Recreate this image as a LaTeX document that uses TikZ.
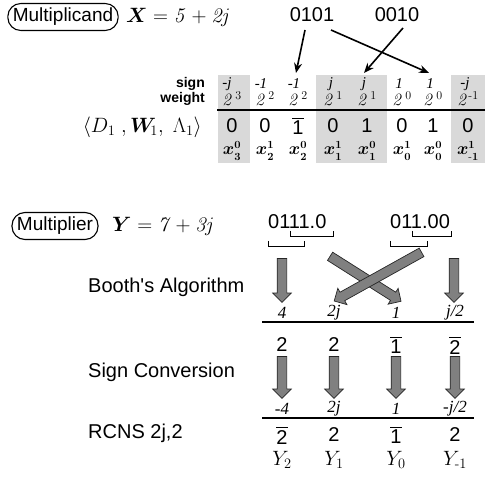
\documentclass[tikz,border=0pt]{standalone}
\usepackage[no-math]{fontspec}
\usepackage{amsmath,bm}
\newfontfamily\sans{Liberation Sans}
\newfontfamily\serif{Liberation Serif}
\usetikzlibrary{arrows.meta,shapes.arrows}
\newcommand\ob[1]{$\overline{\mbox{#1}}$}
\tikzset{
  boxlbl/.style={draw, rounded corners=13pt, line width=1.1pt, font=\sans\fontsize{19}{23}\selectfont, minimum height=27pt, inner xsep=5pt, inner ysep=0pt},
  lbl/.style={font=\sans\fontsize{20}{24}\selectfont, anchor=west, inner sep=0pt},
  dig/.style={font=\sans\fontsize{20}{24}\selectfont, inner sep=0pt},
  mth/.style={font=\fontsize{20}{24}\selectfont, inner sep=0pt},
  sgn/.style={font=\serif\itshape\fontsize{15}{18}\selectfont, inner sep=0pt},
  wgt/.style={font=\fontsize{17}{20}\selectfont, inner sep=0pt},
  xr/.style={font=\fontsize{16}{19}\selectfont\boldmath, inner sep=0pt},
  rowit/.style={font=\serif\itshape\fontsize{17}{20}\selectfont, inner sep=0pt},
  small/.style={font=\sans\bfseries\fontsize{14}{16}\selectfont, anchor=east, inner sep=0pt},
  shade/.style={fill=gray!30},
  rule/.style={line width=1.2pt},
  thin/.style={line width=1.6pt, -{Stealth[length=10pt,width=8pt]}},
  brk/.style={line width=1pt},
  fatarrow/.style={single arrow, draw=black!85, line width=0.7pt, fill=black!50, inner xsep=0pt, inner ysep=4.5pt,
    single arrow head extend=4.5pt, single arrow head indent=0pt,
    sloped, allow upside down, midway, minimum height=#1},
}
\begin{document}
\begin{tikzpicture}[x=1pt,y=-1pt]
\useasboundingbox (0,0) rectangle (485,478);
% shading
\fill[shade] (218,75) rectangle (250,163);
\fill[shade] (316,75) rectangle (387,163);
\fill[shade] (451,75) rectangle (485,163);
% header row
\node[boxlbl] (mcand) at (63,17) {Multiplicand};
\node[mth, anchor=west] (xeq) at (126,17) {$\boldsymbol{X} = \mathit{5} + \mathit{2j}$};
\node[dig] (b1) at (312,15) {0101};
\node[dig] (b2) at (397,15) {0010};
% table labels
\node[small] (signlbl) at (205,84) {sign};
\node[small] (wlbl) at (205,99) {weight};
% sign row
\node[sgn] (s1) at (227,84) {-j};
\node[sgn] (s2) at (261,84) {-1};
\node[sgn] (s3) at (294,84) {-1};
\node[sgn] (s4) at (331,84) {j};
\node[sgn] (s5) at (364,84) {j};
\node[sgn] (s6) at (399,84) {1};
\node[sgn] (s7) at (430,84) {1};
\node[sgn] (s8) at (465,84) {-j};
% weight row
\node[wgt] (w1) at (232,99) {$\mathit{2}^{\,3}$};
\node[wgt] (w2) at (265,99) {$\mathit{2}^{\,2}$};
\node[wgt] (w3) at (298,99) {$\mathit{2}^{\,2}$};
\node[wgt] (w4) at (333,99) {$\mathit{2}^{\,1}$};
\node[wgt] (w5) at (367,99) {$\mathit{2}^{\,1}$};
\node[wgt] (w6) at (402,99) {$\mathit{2}^{\,0}$};
\node[wgt] (w7) at (433,99) {$\mathit{2}^{\,0}$};
\node[wgt] (w8) at (468,99) {$\mathit{2}^{\text{-}1}$};
\draw[rule] (217,110) -- (485,110);
% digits
\node[mth, anchor=east] (dwl) at (202,127) {$\langle D_1\;, \boldsymbol{W}_{\!1},\; \Lambda_1\rangle$};
\node[dig] (d1) at (232,126) {0};
\node[dig] (d2) at (265,126) {0};
\node[dig] (d3) at (298,126) {\ob{1}};
\node[dig] (d4) at (333,126) {0};
\node[dig] (d5) at (367,126) {1};
\node[dig] (d6) at (402,126) {0};
\node[dig] (d7) at (433,126) {1};
\node[dig] (d8) at (468,126) {0};
\node[xr] (x1) at (232,151) {$x^0_3$};
\node[xr] (x2) at (265,151) {$x^1_2$};
\node[xr] (x3) at (298,151) {$x^0_2$};
\node[xr] (x4) at (333,151) {$x^1_1$};
\node[xr] (x5) at (367,151) {$x^0_1$};
\node[xr] (x6) at (402,151) {$x^1_0$};
\node[xr] (x7) at (433,151) {$x^0_0$};
\node[xr] (x8) at (468,151) {$x^1_{\text{-}1}$};
% top arrows
\coordinate (a1s) at (305,30);
\coordinate (a1e) at (296,73);
\coordinate (a2s) at (403,28);
\coordinate (a2e) at (364,73);
\coordinate (a3s) at (331,30);
\coordinate (a3e) at (429,73);
\draw[thin] (a1s) -- (a1e);
\draw[thin] (a2s) -- (a2e);
\draw[thin] (a3s) -- (a3e);
% multiplier
\node[boxlbl] (mplier) at (55,226) {Multiplier};
\node[mth, anchor=west] (yeq) at (112,226) {$\boldsymbol{Y} = \mathit{7} + \mathit{3j}$};
\node[dig, anchor=west] (m1) at (268,222) {0111.0};
\node[dig, anchor=west] (m2) at (390,222) {011.00};
\draw[brk] (290,231) -- (290,237) -- (333,237) -- (333,231);
\draw[brk] (268,241) -- (268,247) -- (304,247) -- (304,241);
\draw[brk] (412,231) -- (412,237) -- (451,237) -- (451,231);
\draw[brk] (390,241) -- (390,247) -- (427,247) -- (427,241);
% booth arrows
\coordinate (f1s) at (282,256); \coordinate (f1e) at (282,300);
\coordinate (f2s) at (328,255); \coordinate (f2e) at (399,300);
\coordinate (f3s) at (424,251); \coordinate (f3e) at (336,300);
\coordinate (f4s) at (454,256); \coordinate (f4e) at (454,300);
\path (f1s) -- (f1e) node[fatarrow=44pt] (fa1) {};
\path (f2s) -- (f2e) node[fatarrow=84pt] (fa2) {};
\path (f3s) -- (f3e) node[fatarrow=100pt] (fa3) {};
\path (f4s) -- (f4e) node[fatarrow=44pt] (fa4) {};
\node[lbl] (booth) at (88,287) {Booth's Algorithm};
% row 1
\node[rowit] (r1a) at (282,313) {4};
\node[rowit] (r1b) at (334,313) {2j};
\node[rowit] (r1c) at (396,313) {1};
\node[rowit] (r1d) at (455,313) {j/2};
\draw[rule] (262,322) -- (474,322);
% row 2
\node[dig] (r2a) at (282,345) {2};
\node[dig] (r2b) at (334,345) {2};
\node[dig] (r2c) at (396,345) {\ob{1}};
\node[dig] (r2d) at (455,345) {\ob{2}};
% sign conversion arrows
\coordinate (g1s) at (282,354); \coordinate (g1e) at (282,396);
\coordinate (g2s) at (334,354); \coordinate (g2e) at (334,396);
\coordinate (g3s) at (396,354); \coordinate (g3e) at (396,396);
\coordinate (g4s) at (455,354); \coordinate (g4e) at (455,396);
\path (g1s) -- (g1e) node[fatarrow=42pt] (ga1) {};
\path (g2s) -- (g2e) node[fatarrow=42pt] (ga2) {};
\path (g3s) -- (g3e) node[fatarrow=42pt] (ga3) {};
\path (g4s) -- (g4e) node[fatarrow=42pt] (ga4) {};
\node[lbl] (signconv) at (88,372) {Sign Conversion};
% row 3
\node[rowit] (r3a) at (282,409) {-4};
\node[rowit] (r3b) at (334,409) {2j};
\node[rowit] (r3c) at (396,409) {1};
\node[rowit] (r3d) at (455,409) {-j/2};
\draw[rule] (262,418) -- (474,418);
% row 4
\node[lbl] (rcns) at (88,433) {RCNS 2j,2};
\node[dig] (r4a) at (282,435) {\ob{2}};
\node[dig] (r4b) at (334,435) {2};
\node[dig] (r4c) at (396,435) {\ob{1}};
\node[dig] (r4d) at (455,435) {2};
% row 5
\node[mth] (y2) at (282,460) {$Y_2$};
\node[mth] (y1) at (334,460) {$Y_1$};
\node[mth] (y0) at (396,460) {$Y_0$};
\node[mth] (ym) at (455,460) {$Y_{\text{-}1}$};
\end{tikzpicture}
\end{document}
